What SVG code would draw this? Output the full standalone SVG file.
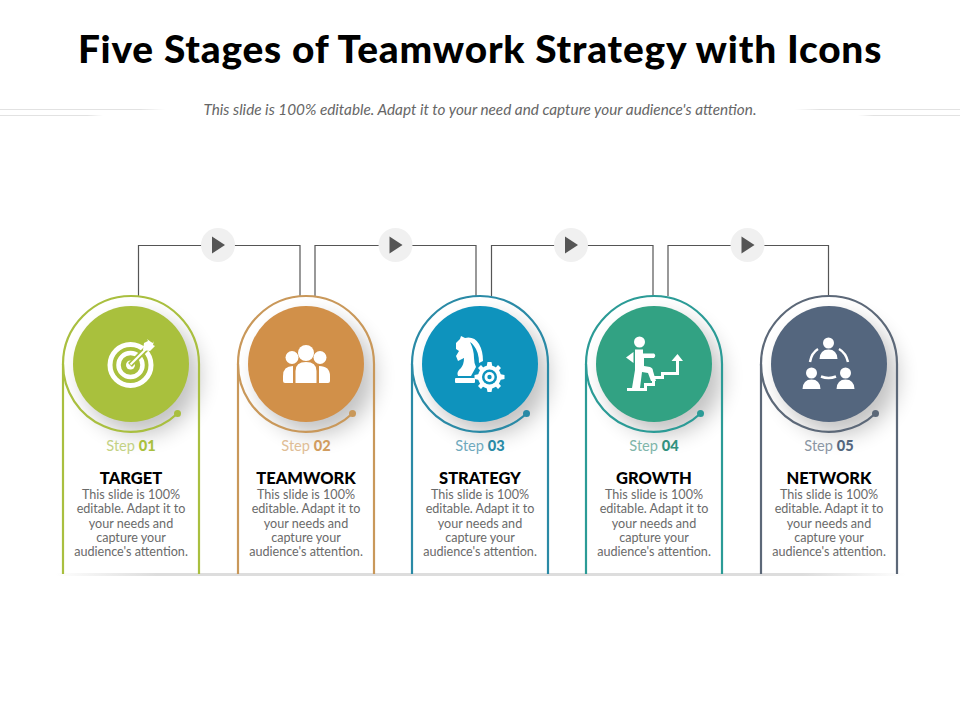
<svg xmlns="http://www.w3.org/2000/svg" width="960" height="720" viewBox="0 0 960 720">
<style>
text{font-family:"Lato","Liberation Sans",sans-serif;text-anchor:middle}
.title{font-size:38.800px;font-weight:900;fill:#000;letter-spacing:.8px}
.sub{font-size:15.300px;font-style:italic;fill:#666}
.step{font-size:14.600px}
.step tspan{font-weight:900}
.head{font-size:16.500px;font-weight:900;fill:#000}
.body{font-size:12.600px;fill:#6a6a6a}
.con{fill:none;stroke:#555;stroke-width:1.2}
.card{fill:none;stroke-width:2.200}
.ic{fill:#fff}
.ics{fill:none;stroke:#fff}
</style>
<defs>
<filter id="sh" x="-50%" y="-50%" width="200%" height="200%"><feGaussianBlur stdDeviation="11"/></filter>
<linearGradient id="base" x1="0" x2="1" y1="0" y2="0"><stop offset="0" stop-color="#ddd" stop-opacity="0"/><stop offset=".12" stop-color="#ddd"/><stop offset=".88" stop-color="#ddd"/><stop offset="1" stop-color="#ddd" stop-opacity="0"/></linearGradient>
<linearGradient id="fl" x1="0" x2="1" y1="0" y2="0"><stop offset="0" stop-color="#e2e2e2"/><stop offset=".85" stop-color="#e2e2e2"/><stop offset="1" stop-color="#e2e2e2" stop-opacity="0"/></linearGradient>
<linearGradient id="fr" x1="1" x2="0" y1="0" y2="0"><stop offset="0" stop-color="#e2e2e2"/><stop offset=".85" stop-color="#e2e2e2"/><stop offset="1" stop-color="#e2e2e2" stop-opacity="0"/></linearGradient>
<g id="cardshape">
<path class="card" d="M-68 210V0A68 68 0 0 1 68 0V210"/>
<path class="card" d="M-68 0A68 68 0 0 0 46.500 49.500"/>
<circle cx="46.500" cy="49.500" r="3.500" stroke="none"/>
</g>
<circle id="shadow" cx="10" cy="12" r="58" fill="#000" opacity=".24" filter="url(#sh)"/>
<g id="play"><circle r="17" fill="#f0f0f0"/><path d="M-6 -8.500L7 0L-6 8.500Z" fill="#555"/></g>
</defs>
<rect width="960" height="720" fill="#fff"/>
<text class="title" x="480" y="63">Five Stages of Teamwork Strategy with Icons</text>
<text class="sub" x="480" y="115">This slide is 100% editable. Adapt it to your need and capture your audience's attention.</text>
<g id="rules">
<rect x="0" y="109" width="165" height="1" fill="url(#fl)"/>
<rect x="0" y="115" width="103" height="1" fill="url(#fl)"/>
<rect x="795" y="109" width="165" height="1" fill="url(#fr)"/>
<rect x="858" y="115" width="102" height="1" fill="url(#fr)"/>
<rect x="55" y="573" width="850" height="3" fill="url(#base)"/>
</g>
<g id="connectors">
<path class="con" d="M138.500 296V245.500H300V296"/>
<path class="con" d="M315 296V245.500H476V296"/>
<path class="con" d="M491.500 296V245.500H653V296"/>
<path class="con" d="M668 296V245.500H828.500V296"/>
<use href="#play" x="218" y="245"/>
<use href="#play" x="395.500" y="245"/>
<use href="#play" x="571" y="245"/>
<use href="#play" x="747.500" y="245"/>
</g>
<g id="node1">
<use href="#shadow" x="131" y="364"/>
<use href="#cardshape" x="131" y="364" fill="#a9bf3f" stroke="#a9bf3f"/>
<circle cx="131" cy="364" r="58" fill="#a9c03d"/>
<g class="ics"><circle cx="130.500" cy="365" r="20.500" stroke-width="5"/><circle cx="130.500" cy="365" r="12" stroke-width="4.500"/></g>
<circle cx="130.500" cy="365" r="4.500" class="ic"/>
<path d="M130 365L152 343" stroke="#a9c03d" stroke-width="5.500"/>
<path d="M130.500 364.500L148 347" stroke="#fff" stroke-width="2.200"/>
<path class="ic" d="M143 350L144 343L148 341L147 339L151 342L153 343L154 341L153 345L155 346L150 351Z"/>
<text class="step" x="131" y="451" fill="#c3d184">Step <tspan fill="#a9c03d">01</tspan></text>
<text class="head" x="131" y="483.500">TARGET</text>
<text class="body"><tspan x="131" y="499">This slide is 100%</tspan><tspan x="131" y="513">editable. Adapt it to</tspan><tspan x="131" y="527.500">your needs and</tspan><tspan x="131" y="542">capture your</tspan><tspan x="131" y="556">audience's attention.</tspan></text>
</g>
<g id="node2">
<use href="#shadow" x="306" y="364"/>
<use href="#cardshape" x="306" y="364" fill="#c9985a" stroke="#c9985a"/>
<circle cx="306" cy="364" r="58" fill="#d19049"/>
<g class="ic">
<circle cx="306" cy="353" r="8"/><circle cx="292" cy="357.500" r="6.500"/><circle cx="320" cy="357.500" r="6.500"/>
<path d="M295.500 383V371Q295.500 362 306 362Q316.500 362 316.500 371V383Z"/>
<path d="M293 366Q283 366 283 376V381Q283 383 285 383H293Z"/>
<path d="M319 366Q330 366 330 376V381Q330 383 328 383H319Z"/>
</g>
<text class="step" x="306" y="451" fill="#dfbd96">Step <tspan fill="#d19c5f">02</tspan></text>
<text class="head" x="306" y="483.500">TEAMWORK</text>
<text class="body"><tspan x="306" y="499">This slide is 100%</tspan><tspan x="306" y="513">editable. Adapt it to</tspan><tspan x="306" y="527.500">your needs and</tspan><tspan x="306" y="542">capture your</tspan><tspan x="306" y="556">audience's attention.</tspan></text>
</g>
<g id="node3">
<use href="#shadow" x="480" y="364"/>
<use href="#cardshape" x="480" y="364" fill="#2a8aa6" stroke="#2a8aa6"/>
<circle cx="480" cy="364" r="58" fill="#0e93bd"/>
<g class="ic">
<path d="M456 343L460 339L461 336L465 338Q474 336 479 344Q483 351 483 361L479 363Q479 352 474 346Q472 343 470 342Q474 350 474 358Q474 363 476 367L471 376H458Q456 372 461 368Q464 364 464 358L458 361L456 356L459 351L456 349Z"/>
<rect x="455" y="378" width="20" height="5" rx="1"/>
<circle cx="489.500" cy="377" r="11.500"/>
<path d="M487.500 362H491.500L492.500 367L486.500 367ZM487.500 392H491.500L492.500 387L486.500 387ZM474.500 375V379L479.500 380L479.500 374ZM504.500 375V379L499.500 380L499.500 374ZM478 368L481 365L484.500 369L481.500 372ZM501 386L498 389L494.500 385L497.500 382ZM501 368L498 365L494.500 369L497.500 372ZM478 386L481 389L484.500 385L481.500 382Z"/>
</g>
<circle cx="489.500" cy="377" r="7.500" fill="#0e93bd"/><circle cx="489.500" cy="377" r="5" fill="#fff"/><circle cx="489.500" cy="377" r="2.200" fill="#0e93bd"/>
<text class="step" x="480" y="451" fill="#6fa9bd">Step <tspan fill="#2a8aa6">03</tspan></text>
<text class="head" x="480" y="483.500">STRATEGY</text>
<text class="body"><tspan x="480" y="499">This slide is 100%</tspan><tspan x="480" y="513">editable. Adapt it to</tspan><tspan x="480" y="527.500">your needs and</tspan><tspan x="480" y="542">capture your</tspan><tspan x="480" y="556">audience's attention.</tspan></text>
</g>
<g id="node4">
<use href="#shadow" x="654" y="364"/>
<use href="#cardshape" x="654" y="364" fill="#2b9b96" stroke="#2b9b96"/>
<circle cx="654" cy="364" r="58" fill="#32a283"/>
<g class="ic">
<circle cx="639.500" cy="342" r="5.500"/>
<path d="M635 349.500H643V353.500H654Q656.500 355.500 654 358H644V366L650 367Q653 368 653 371L656 381H651L648 373L642 372L640 388H632L635 370Z"/>
<path d="M633.500 352V363L626 357.500Z"/>
<path d="M627 388H644V383H652V376H661V372H676V361H671.500L677.500 354L683 361H679V375H664V379H655V386H647V391H627Z"/>
</g>
<text class="step" x="654" y="451" fill="#7fb5aa">Step <tspan fill="#32917f">04</tspan></text>
<text class="head" x="654" y="483.500">GROWTH</text>
<text class="body"><tspan x="654" y="499">This slide is 100%</tspan><tspan x="654" y="513">editable. Adapt it to</tspan><tspan x="654" y="527.500">your needs and</tspan><tspan x="654" y="542">capture your</tspan><tspan x="654" y="556">audience's attention.</tspan></text>
</g>
<g id="node5">
<use href="#shadow" x="829" y="364"/>
<use href="#cardshape" x="829" y="364" fill="#5c6878" stroke="#5c6878"/>
<circle cx="829" cy="364" r="58" fill="#54667e"/>
<g class="ic">
<circle cx="828.500" cy="343" r="5.500"/><path d="M819.500 359Q820 349.500 828.500 349.500Q837 349.500 837.500 359Z"/>
<circle cx="811.500" cy="373" r="5.500"/><path d="M802.500 389Q803 379.500 811.500 379.500Q820 379.500 820.500 389Z"/>
<circle cx="845.500" cy="373" r="5.500"/><path d="M836.500 389Q837 379.500 845.500 379.500Q854 379.500 854.500 389Z"/>
</g>
<g class="ics" stroke-width="2.500"><path d="M810 362Q811.500 353 818 349"/><path d="M839 349Q846 353 848 362"/><path d="M821 376.500Q828.500 379.500 836 376.500"/></g>
<text class="step" x="829" y="451" fill="#8b96a4">Step <tspan fill="#54667e">05</tspan></text>
<text class="head" x="829" y="483.500">NETWORK</text>
<text class="body"><tspan x="829" y="499">This slide is 100%</tspan><tspan x="829" y="513">editable. Adapt it to</tspan><tspan x="829" y="527.500">your needs and</tspan><tspan x="829" y="542">capture your</tspan><tspan x="829" y="556">audience's attention.</tspan></text>
</g>
</svg>
